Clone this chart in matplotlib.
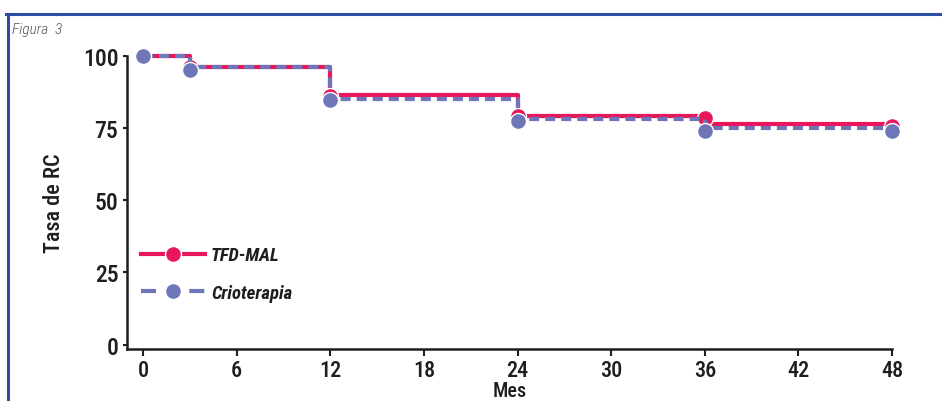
import matplotlib
matplotlib.use("Agg")
import matplotlib.pyplot as plt
from matplotlib.lines import Line2D
from matplotlib import font_manager

fl = font_manager.fontManager.ttflist
names = {f.name for f in fl}
cond_candidates = ['Liberation Sans Narrow', 'Roboto Condensed', 'Open Sans Condensed',
                   'Noto Sans Condensed', 'DejaVu Sans Condensed']
FAM = None
for c in cond_candidates:
    if c in names:
        FAM = c
        break
STRETCH = 'normal'
if FAM is None:
    FAM = 'DejaVu Sans'
    STRETCH = 'condensed'
plt.rcParams['font.family'] = [FAM, 'DejaVu Sans']
plt.rcParams['font.stretch'] = STRETCH

# Data
step_times = [0, 3, 12, 24, 36, 48]
tfd_line = [100, 96, 86.5, 79.3, 76.2, 76.2]
crio_line = [100, 96, 85.0, 78.0, 75.0, 75.0]
marker_times = [0, 3, 12, 24, 36, 48]
tfd_markers = [100, 96, 86.2, 79.0, 78.5, 75.8]
crio_markers = [100, 95.2, 84.8, 77.5, 73.9, 73.9]
x_ticks = [0, 6, 12, 18, 24, 30, 36, 42, 48]
y_ticks = [0, 25, 50, 75, 100]
series_labels = ['TFD-MAL', 'Crioterapia']

RED = '#E8175D'
BLUE = '#6E76B8'
INK = '#1E1E1E'

fig = plt.figure(figsize=(9.42, 4.02), dpi=100)
W, H = 942, 402
ax = fig.add_axes([126.7 / W, 52 / H, (892 - 126.7) / W, (350 - 56.7) / H])

ax.step(step_times, tfd_line, where='post', color=RED, lw=3.0, solid_capstyle='butt',
        clip_on=False, zorder=3)
ax.plot(marker_times, tfd_markers, 'o', color=RED, ms=11.5, mec='white', mew=1.0,
        clip_on=False, zorder=4)
ax.step(step_times, crio_line, where='post', color=BLUE, lw=3.0, ls=(0, (2.4, 1.45)),
        dash_capstyle='butt', clip_on=False, zorder=5)
ax.plot(marker_times, crio_markers, 'o', color=BLUE, ms=11.5, mec='white', mew=1.0,
        clip_on=False, zorder=6)

ax.set_xlim(-1.05, 48)
ax.set_ylim(-1.5, 100)
ax.set_xticks(x_ticks)
ax.set_yticks(y_ticks)
ax.tick_params(axis='x', direction='out', length=5, width=1.5, labelsize=16, pad=2, colors=INK)
ax.tick_params(axis='y', direction='out', length=3, width=1.5, labelsize=17, pad=3, colors=INK)
for lab in ax.get_xticklabels() + ax.get_yticklabels():
    lab.set_fontweight('medium')
for s in ['top', 'right']:
    ax.spines[s].set_visible(False)
for s in ['left', 'bottom']:
    ax.spines[s].set_linewidth(1.8)
    ax.spines[s].set_color(INK)

ax.set_xlabel('Mes', fontsize=14.5, labelpad=0, color=INK, fontweight='medium')
ax.set_ylabel('Tasa de RC', fontsize=16, labelpad=13, color=INK, fontweight='medium')

handles = [
    Line2D([], [], color=RED, lw=3.0, marker='o', ms=11.5, mec='white', mew=1.0),
    Line2D([], [], color=BLUE, lw=3.0, ls=(0, (3.6, 2.2)), marker='o', ms=11.5, mec='white', mew=1.0),
]
leg = ax.legend(handles, series_labels, loc='center left', bbox_to_anchor=(0.0, 0.255),
                frameon=False, handlelength=3.45, handletextpad=0.3, labelspacing=1.05,
                borderaxespad=0.35, prop={'style': 'italic', 'weight': 'bold', 'size': 13.5})
for t in leg.get_texts():
    t.set_color(INK)

fig.text(12 / W, 1 - 30 / H, 'Figura  3', fontsize=11, style='italic', color='#555555',
         va='center', ha='left', fontweight='light')

# blue frame
fig.add_artist(Line2D([6 / W, 1.0], [1 - 15 / H, 1 - 15 / H], color='#2B4EA2', lw=2.2,
                      transform=fig.transFigure))
fig.add_artist(Line2D([8 / W, 8 / W], [0, 1 - 15 / H], color='#2B4EA2', lw=2.2,
                      transform=fig.transFigure))

fig.savefig('out.png', dpi=100)
